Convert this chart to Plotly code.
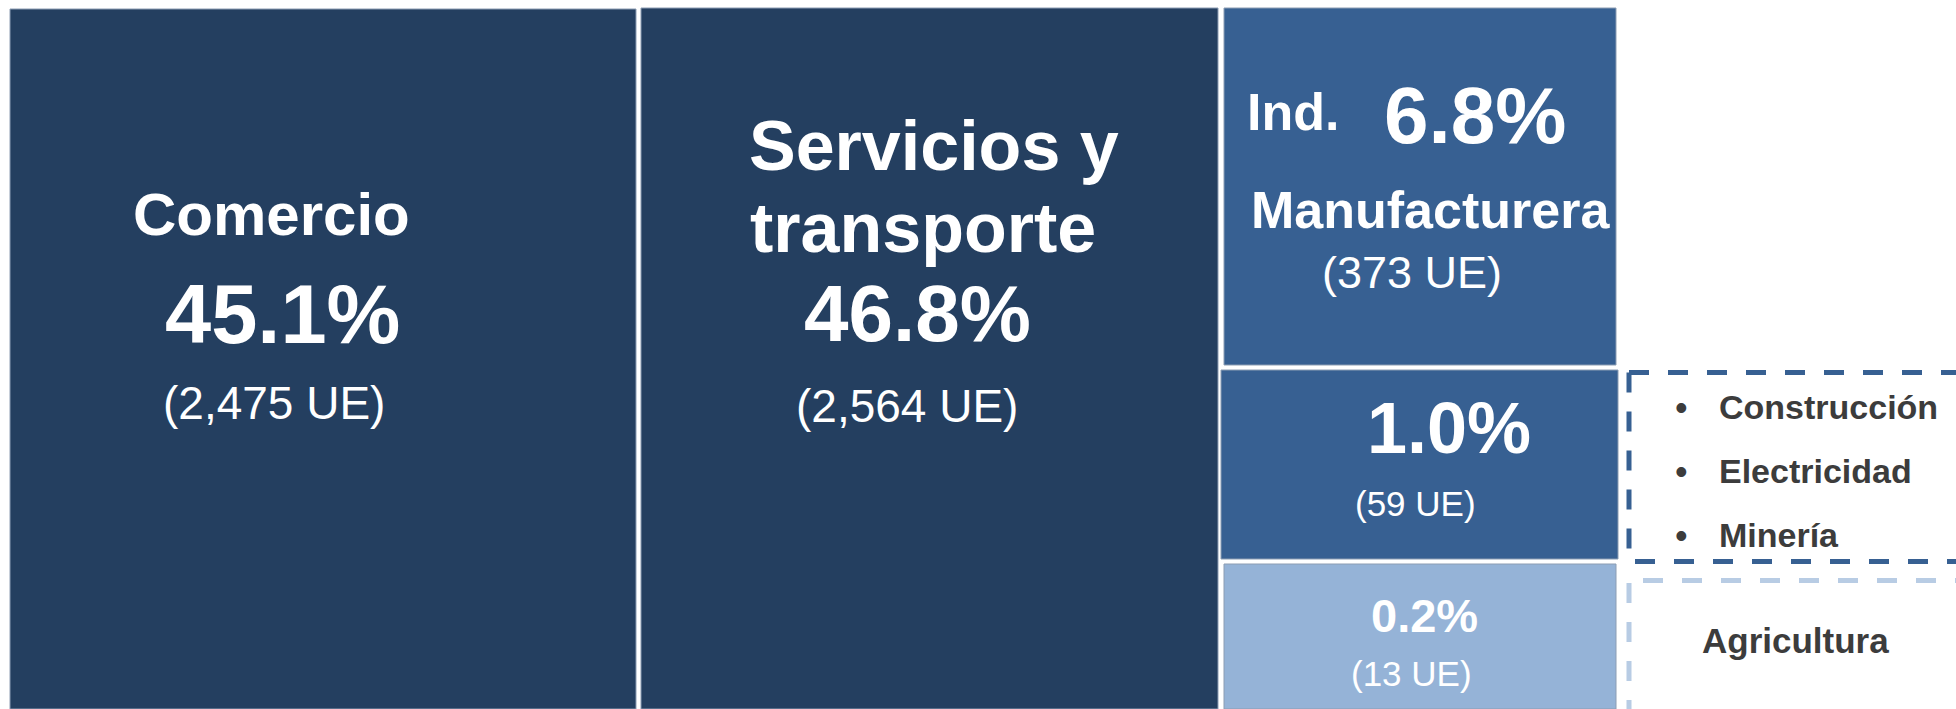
import plotly.graph_objects as go

# ---------------- data ----------------
sectores = ["Comercio", "Servicios y transporte", "Ind. Manufacturera",
            "Construcción, Electricidad y Minería", "Agricultura"]
participacion = [45.1, 46.8, 6.8, 1.0, 0.2]          # %
unidades = [2475, 2564, 373, 59, 13]                  # UE
otros_sectores = ["Construcción", "Electricidad", "Minería"]
agricultura = ["Agricultura"]

# ---------------- layout / styles ----------------
W, H = 1956, 709
colores = ["#243F60", "#243F60", "#376092", "#376092", "#95B3D7"]
# cell grid (x0, x1, y0, y1) in canvas units, y downward
celdas = [(10, 636, 9, 709), (641, 1218, 8, 709), (1224, 1616, 8, 365),
          (1221, 1618, 370, 559), (1224, 1616, 564, 709)]

fig = go.Figure()
fig.add_trace(go.Bar(
    x=[(c[0] + c[1]) / 2 for c in celdas],
    width=[c[1] - c[0] for c in celdas],
    base=[c[2] for c in celdas],
    y=[c[3] - c[2] for c in celdas],
    marker=dict(color=colores, line=dict(color="#8C9DB3", width=1)),
    hoverinfo="skip", showlegend=False,
))

# dashed frames
def dashed(xs, ys, color):
    fig.add_trace(go.Scatter(x=xs, y=ys, mode="lines", hoverinfo="skip", showlegend=False,
                             line=dict(color=color, width=5, dash="20px,19px")))

dashed([1629, 1965], [372.5, 372.5], "#376092")
dashed([1629, 1629, 1965], [372.5, 561.5, 561.5], "#376092")
dashed([1643, 1965], [580.5, 580.5], "#B8CCE4")
dashed([1629, 1629], [583, 720], "#B8CCE4")

FONT = "Arial, Liberation Sans, sans-serif"
WHITE = "#FFFFFF"
GRAY = "#3C3C3C"

def label(text, x, y, size, bold=True, color=WHITE, xanchor="center"):
    t = f"<b>{text}</b>" if bold else text
    fig.add_annotation(x=x, y=y, xref="x", yref="y", text=t, showarrow=False,
                       xanchor=xanchor, yanchor="middle",
                       font=dict(family=FONT, size=size, color=color))

pct = [f"{p:.1f}%" for p in participacion]
ue = [f"({u:,} UE)" for u in unidades]

# Comercio
label(sectores[0], 271, 214, 60)
label(pct[0], 282, 314, 83)
label(ue[0], 274, 403, 46, bold=False)
# Servicios y transporte
label("Servicios y", 934, 146, 70)
label("transporte", 923, 228, 70)
label(pct[1], 917, 313, 80)
label(ue[1], 907, 406, 46, bold=False)
# Ind. Manufacturera
label("Ind.", 1293, 112, 52)
label(pct[2], 1475, 115, 80)
label("Manufacturera", 1430, 210, 52)
label(ue[2], 1412, 272, 45, bold=False)
# Construcción / Electricidad / Minería
label(pct[3], 1449, 428, 72)
label(ue[3], 1415, 503, 35, bold=False)
# Agricultura
label(pct[4], 1424, 615, 47)
label(ue[4], 1411, 673, 35, bold=False)

for i, nombre in enumerate(otros_sectores):
    yy = 407 + 64 * i
    label("•", 1681, yy, 36, bold=False, color=GRAY)
    label(nombre, 1717, yy, 34, color=GRAY, xanchor="left")
label(agricultura[0], 1795, 640, 35, color=GRAY)

fig.update_layout(
    width=W, height=H, margin=dict(l=0, r=0, t=0, b=0),
    paper_bgcolor="white", plot_bgcolor="white", barmode="overlay",
    xaxis=dict(range=[0, W], visible=False, fixedrange=True),
    yaxis=dict(range=[H, 0], visible=False, fixedrange=True),
)

fig.write_html("out.html", post_script="document.body.style.margin='0';",
               config={"displayModeBar": False})
